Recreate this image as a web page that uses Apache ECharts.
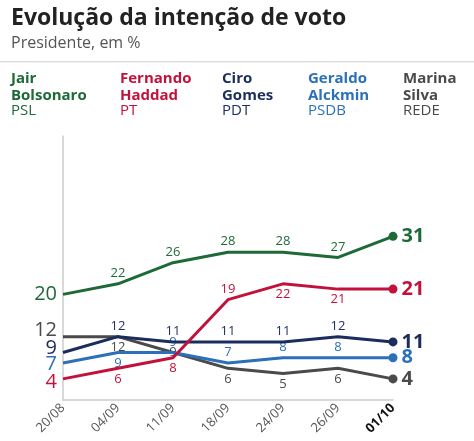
<!DOCTYPE html>
<html><head><meta charset="utf-8">
<script src="https://cdn.jsdelivr.net/npm/echarts@6/dist/echarts.min.js"></script>
<style>html,body{margin:0;padding:0;background:#fff}#c{width:474px;height:441px}</style>
</head><body><div id="c"></div>
<script>
const categories = ['20/08','04/09','11/09','18/09','24/09','26/09','01/10'];
const bolsonaro = [20, 22, 26, 28, 28, 27, 31];
const haddad    = [4, 6, 8, 19, 22, 21, 21];
const ciro      = [9, 12, 11, 11, 11, 12, 11];
const alckmin   = [7, 9, 9, 7, 8, 8, 8];
const marina    = [12, 12, 9, 6, 5, 6, 4];
const names  = ['Jair\nBolsonaro','Fernando\nHaddad','Ciro\nGomes','Geraldo\nAlckmin','Marina\nSilva'];
const parties = ['PSL','PT','PDT','PSDB','REDE'];

const colors = ['#1d6a38','#c2113a','#1c2c5c','#2b70b8','#4a4a4a'];
const seriesValues = [bolsonaro, haddad, ciro, alckmin, marina];
// label side for middle points (style config)
const sides = [
  ['top','top','top','top','top','top','top'],
  ['top','bottom','bottom','top','bottom','bottom','top'],
  ['top','top','top','top','top','top','top'],
  ['top','bottom','top','top','top','top','top'],
  ['top','bottom','inside','bottom','bottom','bottom','top']
];
// vertical nudges of the first-point labels to avoid overlap (style config)
const firstNudge = [0, 3, -4, 1, -6];
const font = '"Open Sans", sans-serif';
const chart = echarts.init(document.getElementById('c'));
const last = categories.length - 1;

const series = seriesValues.map((vals, s) => ({
  type: 'line',
  z: 10 - s,
  symbol: 'circle',
  showSymbol: true,
  data: vals.map((v, i) => {
    const item = { value: v, symbolSize: 0 };
    if (i === 0) {
      item.label = { position: 'left', distance: 6, fontSize: 20, color: colors[s], offset: [0, firstNudge[s]] };
    } else if (i === last) {
      item.symbolSize = 9;
      item.label = { position: 'right', distance: 4, fontSize: 20, fontWeight: 'bold', color: colors[s] };
    } else {
      item.label = { position: sides[s][i], distance: 4, fontSize: 13, color: colors[s] };
    }
    return item;
  }),
  lineStyle: { width: 3, color: colors[s] },
  itemStyle: { color: colors[s] },
  label: { show: true, fontFamily: font },
  emphasis: { disabled: true },
  animation: false
}));

const graphics = [
  { type: 'text', left: 11, top: 7, style: { text: 'Evolução da intenção de voto', font: 'bold 23px ' + font, fill: '#222' } },
  { type: 'text', left: 11, top: 35, style: { text: 'Presidente, em %', font: '16px ' + font, fill: '#555' } },
  { type: 'rect', left: 0, top: 61, shape: { width: 474, height: 1.5 }, style: { fill: '#ddd' } }
];
const legendX = [11, 120, 222, 308, 403];
names.forEach((n, i) => {
  graphics.push({ type: 'text', left: legendX[i], top: 70, style: { text: n, font: 'bold 15px ' + font, fill: colors[i], lineHeight: 17 } });
  graphics.push({ type: 'text', left: legendX[i], top: 103, style: { text: parties[i], font: '15px ' + font, fill: colors[i] } });
});

chart.setOption({
  animation: false,
  grid: { left: 63, right: 81, top: 136, bottom: 41 },
  xAxis: {
    type: 'category', boundaryGap: false,
    data: categories.map((c, i) => i === last ? { value: c, textStyle: { color: '#111', fontWeight: 'bold' } } : c),
    axisLine: { lineStyle: { color: '#ccc', width: 1.5 } },
    axisTick: { show: false },
    axisLabel: { rotate: 45, fontSize: 13, color: '#555', fontFamily: font, margin: 6 }
  },
  yAxis: {
    type: 'value', min: 0, max: 50,
    axisLine: { show: true, lineStyle: { color: '#ccc', width: 1.5 } },
    axisTick: { show: false }, axisLabel: { show: false }, splitLine: { show: false }
  },
  graphic: graphics,
  series: series
});
</script></body></html>
